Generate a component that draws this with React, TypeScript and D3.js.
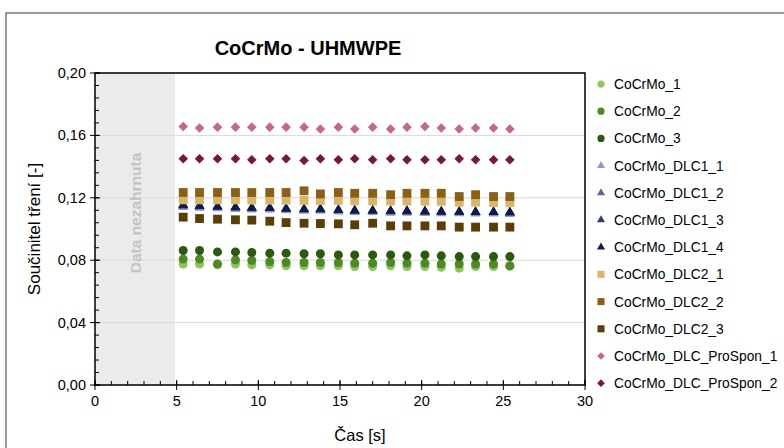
import React from 'react';
import * as d3 from 'd3';

// time points [s]
const times = [5.4, 6.4, 7.5, 8.6, 9.6, 10.7, 11.7, 12.8, 13.8, 14.9, 15.9, 17.0, 18.1, 19.1, 20.2, 21.2, 22.3, 23.3, 24.4, 25.4];

const cocrmo1 = [0.0776, 0.0776, 0.0772, 0.0776, 0.0770, 0.0770, 0.0764, 0.0764, 0.0764, 0.0764, 0.0759, 0.0759, 0.0764, 0.0759, 0.0759, 0.0755, 0.0749, 0.0759, 0.0759, 0.0762];
const cocrmo2 = [0.0807, 0.0807, 0.0776, 0.0802, 0.0798, 0.0791, 0.0785, 0.0785, 0.0785, 0.0785, 0.0781, 0.0781, 0.0785, 0.0781, 0.0781, 0.0776, 0.0776, 0.0776, 0.0776, 0.0764];
const cocrmo3 = [0.0862, 0.0862, 0.0853, 0.0853, 0.0849, 0.0845, 0.0845, 0.0841, 0.0841, 0.0834, 0.0834, 0.0834, 0.0834, 0.0828, 0.0834, 0.0828, 0.0823, 0.0823, 0.0823, 0.0823];
const dlc1_1 = [0.1140, 0.1136, 0.1132, 0.1128, 0.1124, 0.1124, 0.1120, 0.1116, 0.1116, 0.1112, 0.1108, 0.1108, 0.1104, 0.1104, 0.1102, 0.1100, 0.1100, 0.1098, 0.1098, 0.1096];
const dlc1_2 = [0.1148, 0.1144, 0.1140, 0.1136, 0.1132, 0.1132, 0.1128, 0.1124, 0.1124, 0.1120, 0.1116, 0.1116, 0.1112, 0.1112, 0.1110, 0.1108, 0.1108, 0.1106, 0.1106, 0.1104];
const dlc1_3 = [0.1152, 0.1148, 0.1143, 0.1139, 0.1135, 0.1135, 0.1130, 0.1126, 0.1126, 0.1122, 0.1118, 0.1118, 0.1115, 0.1114, 0.1112, 0.1110, 0.1110, 0.1108, 0.1108, 0.1106];
const dlc1_4 = [0.1155, 0.1149, 0.1144, 0.1140, 0.1136, 0.1136, 0.1131, 0.1127, 0.1127, 0.1123, 0.1118, 0.1118, 0.1116, 0.1116, 0.1114, 0.1112, 0.1110, 0.1108, 0.1108, 0.1106];
const dlc2_1 = [0.1187, 0.1187, 0.1187, 0.1187, 0.1185, 0.1185, 0.1185, 0.1183, 0.1183, 0.1183, 0.1180, 0.1180, 0.1180, 0.1180, 0.1178, 0.1178, 0.1172, 0.1172, 0.1170, 0.1170];
const dlc2_2 = [0.1234, 0.1234, 0.1234, 0.1234, 0.1234, 0.1234, 0.1234, 0.1245, 0.1225, 0.1234, 0.1229, 0.1229, 0.1220, 0.1229, 0.1229, 0.1229, 0.1208, 0.1220, 0.1208, 0.1208];
const dlc2_3 = [0.1076, 0.1067, 0.1063, 0.1059, 0.1057, 0.1050, 0.1041, 0.1037, 0.1035, 0.1033, 0.1027, 0.1037, 0.1020, 0.1020, 0.1020, 0.1020, 0.1012, 0.1012, 0.1012, 0.1012];
const prospon1 = [0.1657, 0.1647, 0.1653, 0.1653, 0.1653, 0.1653, 0.1653, 0.1653, 0.1641, 0.1653, 0.1641, 0.1653, 0.1641, 0.1653, 0.1657, 0.1647, 0.1641, 0.1647, 0.1647, 0.1641];
const prospon2 = [0.1450, 0.1450, 0.1450, 0.1450, 0.1444, 0.1450, 0.1450, 0.1439, 0.1450, 0.1444, 0.1450, 0.1444, 0.1450, 0.1444, 0.1444, 0.1444, 0.1450, 0.1444, 0.1444, 0.1444];

const seriesNames = ['CoCrMo_1', 'CoCrMo_2', 'CoCrMo_3', 'CoCrMo_DLC1_1', 'CoCrMo_DLC1_2', 'CoCrMo_DLC1_3', 'CoCrMo_DLC1_4', 'CoCrMo_DLC2_1', 'CoCrMo_DLC2_2', 'CoCrMo_DLC2_3', 'CoCrMo_DLC_ProSpon_1', 'CoCrMo_DLC_ProSpon_2'];
const seriesValues = [cocrmo1, cocrmo2, cocrmo3, dlc1_1, dlc1_2, dlc1_3, dlc1_4, dlc2_1, dlc2_2, dlc2_3, prospon1, prospon2];
const seriesShapes = ['circle', 'circle', 'circle', 'triangle', 'triangle', 'triangle', 'triangle', 'square', 'square', 'square', 'diamond', 'diamond'];
const seriesColors = ['#8fc45f', '#4d8a24', '#2b5a0f', '#8e9ac6', '#5767a2', '#2d3c77', '#0e1a4b', '#d9b567', '#8b6016', '#5a3e07', '#c9648b', '#7a1737'];

const xTicks = [0, 5, 10, 15, 20, 25, 30];
const yTicks = [0, 0.04, 0.08, 0.12, 0.16, 0.2];
const greyEnd = 4.9;

const title = 'CoCrMo - UHMWPE';
const xTitle = 'Čas [s]';
const yTitle = 'Součinitel tření [-]';
const greyLabel = 'Data nezahrnuta';

const font = 'Liberation Sans, Arial, sans-serif';

function symbolPath(shape: string, big: boolean) {
  const k = big ? 1 : 0.8;
  if (shape === 'circle') return d3.symbol(d3.symbolCircle, 64 * k * k)();
  if (shape === 'square') return d3.symbol(d3.symbolSquare, 78 * k * k)();
  if (shape === 'triangle') return d3.symbol(d3.symbolTriangle, 44 * k * k)();
  return d3.symbol(d3.symbolSquare, 46 * k * k)();
}

export default function App() {
  const W = 784, H = 448;
  const left = 95, right = 585, top = 73, bottom = 385;

  const x = d3.scaleLinear().domain([0, 30]).range([left, right]);
  const y = d3.scaleLinear().domain([0, 0.2]).range([bottom, top]);

  const xMinor = d3.range(0, 31, 1);
  const yMinor = d3.range(0, 0.2001, 0.008);
  const fmt = (v: number) => d3.format('.2f')(v).replace('.', ',');

  const legendX = 601, legendY0 = 84, legendStep = 27.2;

  return (
    <svg width={W} height={H} style={{ position: 'absolute', left: 0, top: 0, background: '#fff' }} fontFamily={font}>
      <rect x={6} y={13} width={820} height={460} fill="#fff" stroke="#595959" strokeWidth={1.2} />
      <text x={308} y={55} textAnchor="middle" fontSize={20} fontWeight="bold">{title}</text>

      <rect x={x(0)} y={top} width={x(greyEnd) - x(0)} height={bottom - top} fill="#ebebeb" />
      {yTicks.map(t => (
        <line key={'g' + t} x1={left} x2={right} y1={y(t)} y2={y(t)} stroke="#d9d9d9" strokeWidth={1} />
      ))}
      <text transform={`translate(${(x(0) + x(greyEnd)) / 2 + 6},${(top + bottom) / 2 - 16}) rotate(-90)`} textAnchor="middle" fontSize={15.5} fontWeight="bold" fill="#c3c3c3">{greyLabel}</text>

      {seriesValues.map((vals, si) => (
        <g key={seriesNames[si]}>
          {vals.map((v, i) => (
            <path key={i} d={symbolPath(seriesShapes[si], true) as string}
              transform={`translate(${x(times[i])},${y(v)})${seriesShapes[si] === 'diamond' ? ' rotate(45)' : ''}`}
              fill={seriesColors[si]} />
          ))}
        </g>
      ))}

      <rect x={left} y={top} width={right - left} height={bottom - top} fill="none" stroke="#000" strokeWidth={1.5} />
      {xMinor.map(t => (
        <line key={'xm' + t} x1={x(t)} x2={x(t)} y1={bottom} y2={bottom - 4} stroke="#000" strokeWidth={1} />
      ))}
      {xTicks.map(t => (
        <g key={'xt' + t}>
          <line x1={x(t)} x2={x(t)} y1={bottom + 5} y2={bottom - 5} stroke="#000" strokeWidth={1} />
          <text x={x(t)} y={bottom + 21} textAnchor="middle" fontSize={14.5} fill="#000">{t}</text>
        </g>
      ))}
      {yMinor.map(t => (
        <line key={'ym' + t} x1={left} x2={left + 4} y1={y(t)} y2={y(t)} stroke="#000" strokeWidth={1} />
      ))}
      {yTicks.map(t => (
        <g key={'yt' + t}>
          <line x1={left - 5} x2={left + 5} y1={y(t)} y2={y(t)} stroke="#000" strokeWidth={1} />
          <text x={left - 9} y={y(t) + 5} textAnchor="end" fontSize={14.5} fill="#000">{fmt(t)}</text>
        </g>
      ))}

      <text x={(left + right) / 2 + 20} y={441} textAnchor="middle" fontSize={16.5}>{xTitle}</text>
      <text transform={`translate(40,${(top + bottom) / 2}) rotate(-90)`} textAnchor="middle" fontSize={17}>{yTitle}</text>

      {seriesNames.map((name, si) => {
        const ly = legendY0 + si * legendStep;
        return (
          <g key={'l' + name} transform={`translate(${legendX},${ly})`}>
            <path d={symbolPath(seriesShapes[si], false) as string} transform={seriesShapes[si] === 'diamond' ? 'rotate(45)' : ''} fill={seriesColors[si]} />
            <text x={13} y={5} fontSize={13.8} fill="#000">{name}</text>
          </g>
        );
      })}
    </svg>
  );
}
